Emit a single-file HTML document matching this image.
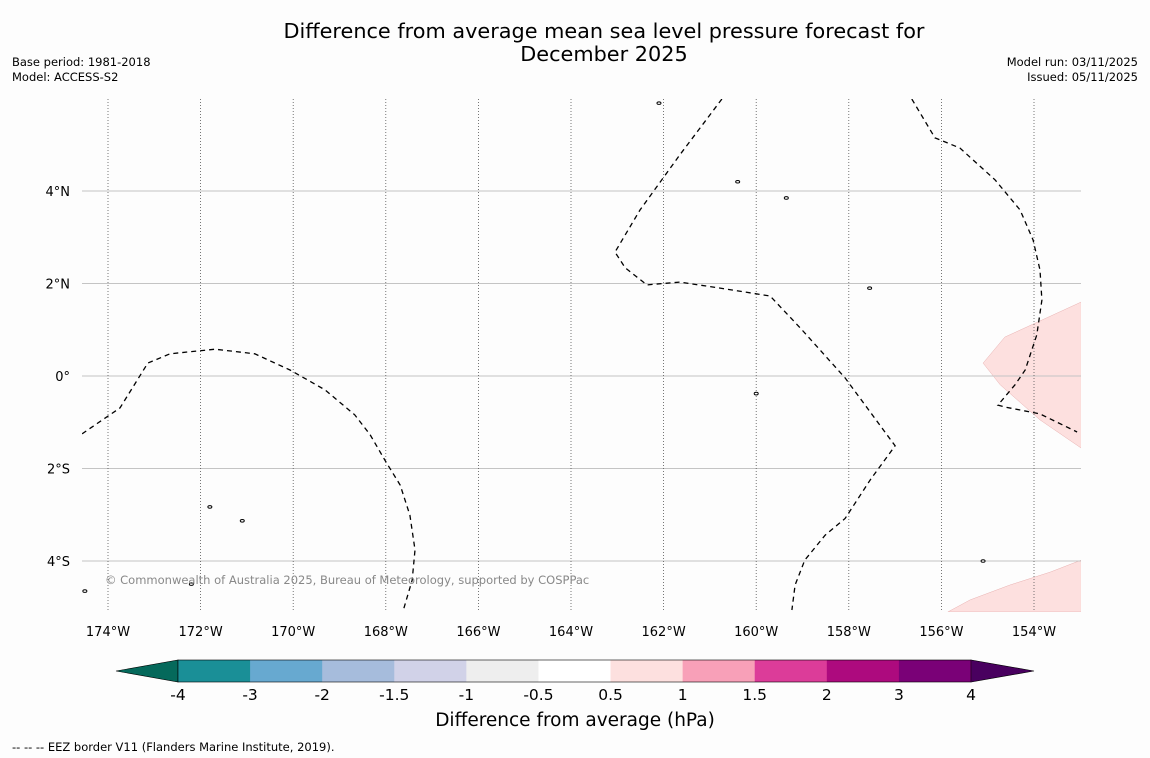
<!DOCTYPE html>
<html><head><meta charset="utf-8">
<style>
body{margin:0;background:#fdfdfd;font-family:"DejaVu Sans","Liberation Sans",sans-serif;}
svg{display:block;font-family:"DejaVu Sans","Liberation Sans",sans-serif;}
</style></head>
<body>
<svg id="chart" width="1150" height="758" xmlns="http://www.w3.org/2000/svg">
<rect width="1150" height="758" fill="#fdfdfd"/>
<text x="604" y="38" font-size="20.8" text-anchor="middle" fill="#000">Difference from average mean sea level pressure forecast for</text>
<text x="604" y="61" font-size="20.8" text-anchor="middle" fill="#000">December 2025</text>
<text x="12" y="66" font-size="11.5">Base period: 1981-2018</text>
<text x="12" y="81" font-size="11.5">Model: ACCESS-S2</text>
<text x="1138" y="66" font-size="11.5" text-anchor="end">Model run: 03/11/2025</text>
<text x="1138" y="81" font-size="11.5" text-anchor="end">Issued: 05/11/2025</text>
<g id="map"></g>
<g id="cbar"></g>
<text x="575" y="726" font-size="18.5" text-anchor="middle">Difference from average (hPa)</text>
<text x="12" y="751" font-size="11.5">--  --  -- EEZ border V11 (Flanders Marine Institute, 2019).</text>
</svg>
<script>
const lonTicks=[-174,-172,-170,-168,-166,-164,-162,-160,-158,-156,-154];
const latTicks=[4,2,0,-2,-4];
const eez1Lon=[-174.56,-173.74,-173.14,-172.66,-171.69,-170.83,-170.07,-169.31,-168.67,-168.34,-168.02,-167.69,-167.48,-167.37,-167.43,-167.61];
const eez1Lat=[-1.25,-0.69,0.28,0.48,0.58,0.48,0.13,-0.30,-0.84,-1.27,-1.82,-2.36,-3.01,-3.76,-4.41,-5.02];
const eez2Lon=[-160.74,-161.65,-162.51,-163.05,-162.83,-162.36,-161.65,-160.78,-159.70,-159.05,-158.08,-157.00,-157.54,-158.08,-158.51,-158.95,-159.16,-159.23];
const eez2Lat=[5.99,4.78,3.59,2.68,2.34,1.97,2.03,1.90,1.73,1.04,-0.04,-1.51,-2.25,-3.08,-3.44,-3.98,-4.52,-5.06];
const eez3Lon=[-156.64,-156.14,-155.60,-154.84,-154.30,-154.02,-153.87,-153.83,-153.94,-154.19,-154.41,-154.78,-154.63,-153.87,-153.07];
const eez3Lat=[5.99,5.15,4.93,4.24,3.59,2.94,2.29,1.64,0.89,0.13,-0.19,-0.63,-0.67,-0.82,-1.21];
const pink1Lon=[-152.98,-154.63,-155.10,-154.73,-153.87,-152.98];
const pink1Lat=[1.60,0.84,0.28,-0.19,-0.95,-1.56];
const pink2Lon=[-155.86,-155.38,-154.52,-153.65,-152.98,-152.98];
const pink2Lat=[-5.10,-4.84,-4.52,-4.24,-3.98,-5.10];
const islandLon=[-159.35,-157.55,-171.8,-171.1,-172.2,-160.4,-160.0,-155.1,-174.5,-162.1];
const islandLat=[3.85,1.9,-2.83,-3.13,-4.5,4.2,-0.38,-4.0,-4.65,5.9];
const cbBounds=[-4,-3,-2,-1.5,-1,-0.5,0.5,1,1.5,2,3,4];
const cbColors=["#1a8f97","#67a9d0","#a6bcdc","#d1d2e8","#eeeeee","#ffffff","#fde0df","#f8a0b8","#dc3c99","#ad0a7e","#7a0177"];

const NS="http://www.w3.org/2000/svg";
const map=document.getElementById('map');
const X0=82,X1=1081,Y0=99,Y1=612;
const xs=lon=>108+(lon+174)*46.3;
const ys=lat=>376-lat*46.25;
function mk(tag,attrs,parent){const e=document.createElementNS(NS,tag);for(const k in attrs)e.setAttribute(k,attrs[k]);parent.appendChild(e);return e;}
const defs=mk('defs',{},map);
const cp=mk('clipPath',{id:'clip'},defs);
mk('rect',{x:X0,y:Y0,width:X1-X0,height:Y1-Y0},cp);
const g=mk('g',{'clip-path':'url(#clip)'},map);
function poly(lons,lats){return lons.map((l,i)=>xs(l).toFixed(1)+','+ys(lats[i]).toFixed(1)).join(' ');}
let p=mk('polygon',{points:poly(pink1Lon,pink1Lat),fill:'#fde0df',stroke:'#e8b0b0','stroke-width':0.5},g);


p=mk('polygon',{points:poly(pink2Lon,pink2Lat),fill:'#fde0df',stroke:'#e8b0b0','stroke-width':0.5},g);


latTicks.forEach(l=>{
  const ln=mk('line',{x1:X0,x2:X1,y1:ys(l),y2:ys(l),stroke:'#c4c4c4','stroke-width':1},g);
  
  
  const t=mk('text',{x:70,y:ys(l)+5,'font-size':13,'text-anchor':'end'},map);
  t.textContent=l===0?'0°':Math.abs(l)+'°'+(l>0?'N':'S');
  
  
});
lonTicks.forEach(l=>{
  const ln=mk('line',{x1:xs(l),x2:xs(l),y1:Y0,y2:Y1,stroke:'#555','stroke-width':0.8,'stroke-dasharray':'1,2'},g);
  
  
  const t=mk('text',{x:xs(l),y:636,'font-size':13,'text-anchor':'middle'},map);
  t.textContent=Math.abs(l)+'°W';
  
  
});
[[eez1Lon,eez1Lat],[eez2Lon,eez2Lat],[eez3Lon,eez3Lat]].forEach((d,i)=>{
  const pl=mk('polyline',{points:poly(d[0],d[1]),fill:'none',stroke:'#000','stroke-width':1.3,'stroke-dasharray':'5,4'},g);
  
  
});
islandLon.forEach((l,i)=>{
  const e=mk('ellipse',{cx:xs(l),cy:ys(islandLat[i]),rx:2,ry:1.3,fill:'#fff',stroke:'#000','stroke-width':1},g);
  
  
});
const cr=mk('text',{x:105,y:584,'font-size':11.5,fill:'#888'},map);
cr.textContent='© Commonwealth of Australia 2025, Bureau of Meteorology, supported by COSPPac';



const cb=document.getElementById('cbar');
const CX0=178,CX1=971,CY0=660,CY1=682;
const seg=(CX1-CX0)/(cbBounds.length-1);
const cx=i=>CX0+i*seg;
let tri=mk('polygon',{points:`${CX0},${CY0} ${CX0},${CY1} 116,671`,fill:'#05695b',stroke:'#000','stroke-width':0.6},cb);


tri=mk('polygon',{points:`${CX1},${CY0} ${CX1},${CY1} 1034,671`,fill:'#49005f',stroke:'#000','stroke-width':0.6},cb);


cbColors.forEach((c,i)=>{
  const r=mk('rect',{x:cx(i),y:CY0,width:seg+0.5,height:CY1-CY0,fill:c},cb);
  
  
});
mk('rect',{x:CX0,y:CY0,width:CX1-CX0,height:CY1-CY0,fill:'none',stroke:'#000','stroke-width':0.6},cb);
cbBounds.forEach((b,i)=>{
  const t=mk('text',{x:cx(i),y:700,'font-size':15.5,'text-anchor':'middle'},cb);
  t.textContent=String(b);
  
  
});
</script>
</body></html>
